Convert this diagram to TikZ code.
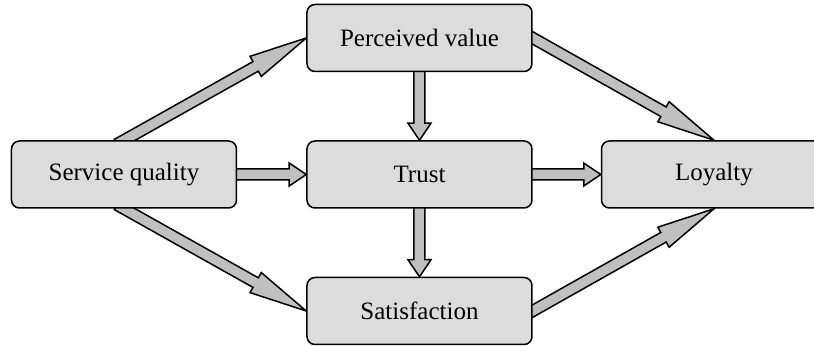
\documentclass[tikz,border=0pt]{standalone}
\usepackage{fontspec}
\setmainfont{Liberation Serif}
\definecolor{boxgray}{RGB}{220, 220, 220}
\definecolor{arrowgray}{RGB}{192, 192, 192}
\usetikzlibrary{positioning, calc, backgrounds}

% thick hollow arrow from #2 to #3, #1 = head length
\newcommand\fatarrow[3][8.5pt]{%
	\coordinate (fa-s) at ($(#2)!-4pt!(#3)$);
	\coordinate (fa-h) at ($(#3)!#1!(#2)$);
	\draw[fatarrow] ($(fa-s)!2.75pt!90:(#3)$) -- ($(fa-h)!2.75pt!90:(#3)$) -- ($(fa-h)!5.75pt!90:(#3)$) -- (#3)
		-- ($(fa-h)!5.75pt!-90:(#3)$) -- ($(fa-h)!2.75pt!-90:(#3)$) -- ($(fa-s)!2.75pt!-90:(#3)$) -- cycle;
}

\begin{document}
\begin{tikzpicture}[
		box/.style={draw, rounded corners=4pt, fill=boxgray, line width=0.75pt, minimum height=33.5pt, minimum width=112.5pt, font=\fontsize{12.5}{15}\selectfont},
		fatarrow/.style={draw, fill=arrowgray, line width=0.75pt, line join=miter}
		]
		\useasboundingbox (-209.75pt,-85.75pt) rectangle (197.25pt,87.25pt);
		
		\node[box] (trust) {Trust};
		\node[box, left=34.5pt of trust] (quality) {Service quality};
		\node[box, right=34pt of trust] (loyalty) {Loyalty};
		\node[box, above=34pt of trust] (value) {Perceived value};
		\node[box, below=34pt of trust] (satisf) {Satisfaction};
		
		\begin{scope}[on background layer]
			\fatarrow{quality.east}{trust.west}
			\fatarrow{trust.east}{loyalty.west}
			\fatarrow{value.south}{trust.north}
			\fatarrow{trust.south}{satisf.north}
			\fatarrow[29pt]{quality.north}{value.west}
			\fatarrow[29pt]{quality.south}{satisf.west}
			\fatarrow[29pt]{value.east}{loyalty.north}
			\fatarrow[29pt]{satisf.east}{loyalty.south}
		\end{scope}
	\end{tikzpicture}
\end{document}
